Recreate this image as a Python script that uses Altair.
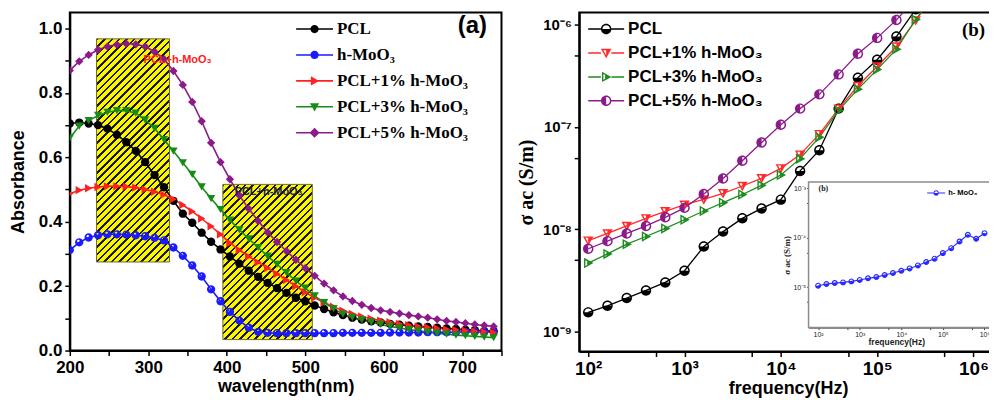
import math
import altair as alt
import pandas as pd

# ---------------- panel (a): UV-vis absorbance ----------------
WAVELENGTH = [200, 212, 224, 236, 248, 260, 272, 284, 296, 308, 320, 332, 344, 356, 368, 380,
              392, 404, 416, 428, 440, 452, 464, 476, 488, 500, 512, 524, 536, 548, 560, 572,
              584, 596, 608, 620, 632, 644, 656, 668, 680, 692, 704, 716, 728, 740]
ABS_PCL = [0.705, 0.708, 0.705, 0.700, 0.689, 0.670, 0.647, 0.620, 0.585, 0.545, 0.507, 0.465,
           0.425, 0.397, 0.366, 0.338, 0.314, 0.292, 0.270, 0.248, 0.229, 0.210, 0.194, 0.179,
           0.164, 0.153, 0.140, 0.129, 0.119, 0.110, 0.102, 0.096, 0.091, 0.087, 0.083, 0.080,
           0.077, 0.075, 0.073, 0.071, 0.069, 0.067, 0.065, 0.063, 0.061, 0.060]
ABS_HMOO3 = [0.312, 0.336, 0.351, 0.358, 0.361, 0.361, 0.360, 0.358, 0.355, 0.350, 0.342, 0.320,
             0.294, 0.264, 0.230, 0.190, 0.153, 0.120, 0.093, 0.071, 0.058, 0.055, 0.054, 0.054,
             0.054, 0.054, 0.054, 0.054, 0.054, 0.055, 0.055, 0.055, 0.055, 0.055, 0.056, 0.056,
             0.056, 0.056, 0.057, 0.057, 0.057, 0.057, 0.058, 0.058, 0.058, 0.058]
ABS_PCL1 = [0.487, 0.498, 0.504, 0.508, 0.510, 0.510, 0.509, 0.506, 0.500, 0.493, 0.484, 0.470,
            0.452, 0.432, 0.410, 0.386, 0.361, 0.334, 0.312, 0.292, 0.274, 0.256, 0.238, 0.219,
            0.200, 0.181, 0.164, 0.149, 0.136, 0.124, 0.114, 0.106, 0.099, 0.093, 0.088, 0.083,
            0.079, 0.075, 0.072, 0.069, 0.066, 0.064, 0.062, 0.060, 0.058, 0.056]
ABS_PCL3 = [0.660, 0.697, 0.714, 0.730, 0.740, 0.745, 0.745, 0.737, 0.716, 0.690, 0.655, 0.619,
            0.583, 0.547, 0.508, 0.472, 0.438, 0.405, 0.375, 0.347, 0.320, 0.293, 0.268, 0.242,
            0.216, 0.194, 0.170, 0.149, 0.130, 0.113, 0.103, 0.095, 0.088, 0.081, 0.075, 0.070,
            0.065, 0.061, 0.057, 0.054, 0.051, 0.048, 0.046, 0.044, 0.042, 0.040]
ABS_PCL5 = [0.870, 0.898, 0.918, 0.934, 0.944, 0.950, 0.953, 0.951, 0.944, 0.928, 0.905, 0.868,
            0.825, 0.772, 0.712, 0.645, 0.585, 0.532, 0.482, 0.440, 0.402, 0.367, 0.337, 0.309,
            0.282, 0.256, 0.232, 0.208, 0.187, 0.168, 0.154, 0.142, 0.132, 0.125, 0.120, 0.115,
            0.110, 0.106, 0.102, 0.097, 0.092, 0.089, 0.085, 0.081, 0.078, 0.075]
SERIES_A = ["PCL", "h-MoO₃", "PCL+1% h-MoO₃", "PCL+3% h-MoO₃", "PCL+5% h-MoO₃"]
COLORS_A = ["#000000", "#1a1aff", "#ff2020", "#168c16", "#8b1a8b"]

RECT_X1 = [234, 395]
RECT_X2 = [327, 509]
RECT_Y1 = [0.275, 0.034]
RECT_Y2 = [0.968, 0.516]
RECT_TEXT = ["PCL+h-MoO₃", "PCL+h-MoO₃"]
RECT_TEXT_X = [294, 410]
RECT_TEXT_Y = [0.901, 0.492]
RECT_TEXT_COLOR = ["#ff2020", "#1c1c5a"]

XA_TICKS = [200, 250, 300, 350, 400, 450, 500, 550, 600, 650, 700, 750]
YA_TICKS = [0.0, 0.1, 0.2, 0.3, 0.4, 0.5, 0.6, 0.7, 0.8, 0.9, 1.0]

# ---------------- panel (b): ac conductivity ----------------
FREQ = [100, 158.5, 251.2, 398.1, 631.0, 1000, 1585, 2512, 3981, 6310, 10000, 15850,
        25120, 39810, 63100, 100000, 158500, 251200, 398100]
SIG_PCL = [1.545e-9, 1.79e-9, 2.13e-9, 2.53e-9, 3.03e-9, 3.94e-9, 6.79e-9, 9.5e-9, 1.28e-8,
           1.60e-8, 1.95e-8, 3.72e-8, 5.93e-8, 1.51e-7, 3.03e-7, 4.53e-7, 7.64e-7, 1.41e-6, 2.5e-6]
SIG_PCL1 = [7.76e-9, 9.12e-9, 1.08e-8, 1.28e-8, 1.50e-8, 1.74e-8, 1.96e-8, 2.25e-8, 2.65e-8,
            3.15e-8, 3.94e-8, 5.37e-8, 8.51e-8, 1.51e-7, 2.51e-7, 3.89e-7, 6.10e-7, 1.10e-6, 2.0e-6]
SIG_PCL3 = [4.68e-9, 5.75e-9, 7.16e-9, 8.51e-9, 1.02e-8, 1.24e-8, 1.51e-8, 1.82e-8, 2.19e-8,
            2.69e-8, 3.39e-8, 4.90e-8, 7.94e-8, 1.45e-7, 2.34e-7, 3.63e-7, 5.75e-7, 1.12e-6, 2.0e-6]
SIG_PCL5 = [6.46e-9, 7.67e-9, 9.12e-9, 1.08e-8, 1.31e-8, 1.62e-8, 2.21e-8, 3.14e-8, 4.68e-8,
            7.05e-8, 1.05e-7, 1.51e-7, 2.08e-7, 3.26e-7, 5.19e-7, 7.41e-7, 1.11e-6, 1.78e-6, 3.0e-6]
SERIES_B = ["PCL", "PCL+1% h-MoO₃", "PCL+3% h-MoO₃", "PCL+5% h-MoO₃"]
COLORS_B = ["#000000", "#ff2a2a", "#1e8c1e", "#8b1a8b"]
XB_TICKS = [1e2, 5e2, 1e3, 5e3, 1e4, 5e4, 1e5, 5e5, 1e6]
YB_TICKS = [1e-9, 5e-9, 1e-8, 5e-8, 1e-7, 5e-7, 1e-6]

# inset (h-MoO3)
INSET_FREQ = [100, 158.5, 251.2, 398.1, 631.0, 1000, 1585, 2512, 3981, 6310, 10000, 15850,
              25120, 39810, 63100, 100000, 158500, 251200, 398100, 631000, 1000000]
INSET_SIG = [1.07e-5, 1.16e-5, 1.21e-5, 1.25e-5, 1.31e-5, 1.40e-5, 1.51e-5, 1.60e-5, 1.76e-5,
             1.93e-5, 2.15e-5, 2.40e-5, 2.76e-5, 3.22e-5, 3.77e-5, 4.90e-5, 6.18e-5, 8.43e-5,
             1.15e-4, 9.55e-5, 1.24e-4]
INSET_SERIES = ["h- MoO₃"]
INSET_X_DOMAIN = [58.9, 1.995e6]
INSET_Y_DOMAIN = [1.514e-6, 1.349e-3]
XI_TICKS = [1e2, 5e2, 1e3, 5e3, 1e4, 5e4, 1e5, 5e5, 1e6]
YI_TICKS = [5e-6, 1e-5, 5e-5, 1e-4, 5e-4, 1e-3]

# ---------------- layout ----------------
WA, HA = 433, 339
WB, HB = 419, 340
XA_DOMAIN = [200, 750]
YA_DOMAIN = [0, 1.0495]
XB_DOMAIN = [80.7, 1.754e6]
YB_DOMAIN = [6.40e-10, 1.309e-6]
INSET_X_RANGE = [230, 419]
INSET_Y_RANGE = [316, 170]

SANS = "Liberation Sans"
SERIF = "Liberation Serif"


# ---------------- marker path helpers ----------------
def circle_path(r, cx=0.0, cy=0.0, cw=True):
    s = 1 if cw else 0
    return (f"M{cx + r:.3f},{cy:.3f}A{r:.3f},{r:.3f} 0 1,{s} {cx - r:.3f},{cy:.3f}"
            f"A{r:.3f},{r:.3f} 0 1,{s} {cx + r:.3f},{cy:.3f}Z")


def poly_path(pts, k=1.0, ccw=False):
    p = [(x * k, y * k) for x, y in pts]
    if ccw:
        p = p[::-1]
    return "M" + "L".join(f"{x:.3f},{y:.3f}" for x, y in p) + "Z"


def shrink(pts, f):
    cx = sum(p[0] for p in pts) / len(pts)
    cy = sum(p[1] for p in pts) / len(pts)
    return [(cx + (x - cx) * f, cy + (y - cy) * f) for x, y in pts]


def bottom_half(k):
    return f"M{k:.3f},0A{k:.3f},{k:.3f} 0 0,1 {-k:.3f},0Z"


def left_half(k):
    return f"M0,{k:.3f}A{k:.3f},{k:.3f} 0 0,1 0,{-k:.3f}Z"


TRI_DOWN = [(-1, -0.8), (1, -0.8), (0, 1)]
TRI_RIGHT = [(-0.8, -1), (1, 0), (-0.8, 1)]
DIAMOND = [(0, -1), (1, 0), (0, 1), (-1, 0)]


def marker_b(kind, k):
    if kind == "pcl":
        return circle_path(k) + circle_path(0.72 * k, cw=False) + bottom_half(k)
    if kind == "p1":
        return (poly_path(TRI_DOWN, k) + poly_path(shrink(TRI_DOWN, 0.55), k, ccw=True)
                + poly_path([(0, -0.8), (1, -0.8), (0, 1)], k))
    if kind == "p3":
        return (poly_path(TRI_RIGHT, k) + poly_path(shrink(TRI_RIGHT, 0.55), k, ccw=True)
                + poly_path([(-0.2, -0.667), (1, 0), (-0.2, 0.667)], k))
    return circle_path(k) + circle_path(0.72 * k, cw=False) + left_half(k)


def legend_line(half_len, r, t):
    return (poly_path([(-half_len, -t), (-r, -t), (-r, t), (-half_len, t)])
            + poly_path([(r, -t), (half_len, -t), (half_len, t), (r, t)]))


# legend symbols: 17px symbol box, the path reaches beyond it to draw the line
LEG_UNIT = 8.5
KINDS_B = ["pcl", "p1", "p3", "p5"]
SHAPES_B = [marker_b(k, 1.0) for k in KINDS_B]
_rb = 5.25 / LEG_UNIT
LEG_SHAPES_B = [legend_line(18.0 / LEG_UNIT, _rb, 0.75 / LEG_UNIT) + marker_b(k, _rb) for k in KINDS_B]

SHAPES_A = ["circle", circle_path(1.0) + circle_path(0.32, -0.2, -0.3, cw=False),
            "triangle-right", "triangle-down", "diamond"]
_hl = 18.5 / LEG_UNIT
_t = 0.8 / LEG_UNIT
_full_line = poly_path([(-_hl, -_t), (_hl, -_t), (_hl, _t), (-_hl, _t)])
_ka = 4.6 / LEG_UNIT
LEG_SHAPES_A = [_full_line + circle_path(0.9 * _ka), _full_line + circle_path(0.9 * _ka),
                _full_line + poly_path(TRI_RIGHT, _ka), _full_line + poly_path(TRI_DOWN, _ka),
                _full_line + poly_path(DIAMOND, 1.1 * _ka)]

INSET_SHAPE = [circle_path(1.0) + circle_path(0.62, cw=False) + bottom_half(1.0)]
INSET_LEG_SHAPE = [legend_line(1.0, 0.3, 0.05) + circle_path(0.3) + circle_path(0.19, cw=False)
                   + bottom_half(0.3)]


def hatch(w, h, period=5.2, thick=1.7, c_bg="#fbf500", c_line="#1a1a00"):
    a, b = 1.0 / h, 1.0 / w
    s = (a + b) / (a * a + b * b)
    n = max(1, int(round((w + h) / (math.sqrt(2) * period))))
    f = thick / period
    stops = []
    for i in range(n):
        o0, o1, o2 = i / n, (i + f) / n, (i + 1) / n
        stops += [(o0, c_line), (o1, c_line), (o1, c_bg), (o2, c_bg)]
    return alt.LinearGradient(
        gradient="linear", x1=0, y1=0, x2=round(a * s, 4), y2=round(b * s, 4),
        stops=[alt.GradientStop(offset=round(min(o, 1.0), 5), color=c) for o, c in stops])


# ---------------- data frames ----------------
def long_df(xs_list, ys_list, names, xname, yname):
    rows = []
    for name, xs, ys in zip(names, xs_list, ys_list):
        for x, y in zip(xs, ys):
            rows.append({xname: x, yname: y, "series": name})
    return pd.DataFrame(rows)


df_a = long_df([WAVELENGTH] * 5, [ABS_PCL, ABS_HMOO3, ABS_PCL1, ABS_PCL3, ABS_PCL5],
               SERIES_A, "wavelength", "absorbance")
df_b = long_df([FREQ] * 4, [SIG_PCL, SIG_PCL1, SIG_PCL3, SIG_PCL5], SERIES_B, "frequency", "sigma")
df_i = long_df([INSET_FREQ], [INSET_SIG], INSET_SERIES, "frequency", "sigma")
df_rect = pd.DataFrame({"x1": RECT_X1, "x2": RECT_X2, "y1": RECT_Y1, "y2": RECT_Y2, "id": [0, 1]})
df_rtext = pd.DataFrame({"x": RECT_TEXT_X, "y": RECT_TEXT_Y, "text": RECT_TEXT, "id": [0, 1]})
df_alabel = pd.DataFrame({"x": [713], "y": [1.009], "text": ["(a)"]})
df_blabel = pd.DataFrame({"x": [1.0e6], "y": [8.9e-7], "text": ["(b)"]})
df_ilabel = pd.DataFrame({"x": [134], "y": [9.8e-4], "text": ["(b)"]})
df_iframe = pd.DataFrame({"x1": [INSET_X_DOMAIN[0]], "x2": [INSET_X_DOMAIN[1]],
                          "y1": [INSET_Y_DOMAIN[0]], "y2": [INSET_Y_DOMAIN[1]]})

# ---------------- axes ----------------
def main_axis(**kw):
    base = dict(grid=False, tickColor="black", tickWidth=1.5, domainColor="black", domainWidth=2,
                labelFont=SANS, labelFontWeight="bold", labelColor="black", labelOverlap=False,
                labelFlush=False, labelBound=False, titleFont=SANS, titleFontWeight="bold",
                titleColor="black")
    base.update(kw)
    return alt.Axis(**base)


AX_XA = main_axis(values=XA_TICKS, labelExpr="datum.value % 100 === 0 ? datum.label : ''",
                  tickSize=5, labelPadding=4, labelFontSize=17, titleFontSize=18, titlePadding=2)
AX_YA = main_axis(values=YA_TICKS,
                  labelExpr="round(datum.value * 10) % 2 === 0 ? format(datum.value, '.1f') : ''",
                  tickSize=5, labelPadding=3, labelFontSize=17, titleFontSize=18, titlePadding=6,
                  minExtent=36, maxExtent=36)
AX_XB = main_axis(values=XB_TICKS,
                  labelExpr="['10²','10³','10⁴','10⁵','10⁶'][indexof([100,1000,10000,100000,1000000], datum.value)] || ''",
                  tickSize=5, labelPadding=3, labelFontSize=19, titleFontSize=18, titlePadding=1)
AX_YB = main_axis(values=YB_TICKS,
                  labelExpr="['10⁻⁹','10⁻⁸','10⁻⁷','10⁻⁶'][indexof([1e-9,1e-8,1e-7,1e-6], datum.value)] || ''",
                  tickSize=5, labelPadding=3, labelFontSize=15, titleFont=SERIF, titleFontSize=20,
                  titlePadding=5, minExtent=38, maxExtent=38)
AX_XI = alt.Axis(orient="bottom", offset=INSET_Y_RANGE[0] - HB, values=XI_TICKS,
                 labelExpr="['10²','10³','10⁴','10⁵','10⁶'][indexof([100,1000,10000,100000,1000000], datum.value)] || ''",
                 grid=False, tickSize=2, tickColor="#444", domainColor="#444", domainWidth=1,
                 labelFont=SANS, labelFontSize=7, labelColor="#222", labelPadding=1,
                 labelOverlap=False, labelFlush=False, titleFont=SANS, titleFontSize=8.5,
                 titleFontWeight="bold", titleColor="#222", titlePadding=0, titleX=318)
AX_YI = alt.Axis(orient="left", offset=-INSET_X_RANGE[0], values=YI_TICKS,
                 labelExpr="['10⁻⁵','10⁻⁴','10⁻³'][indexof([1e-5,1e-4,1e-3], datum.value)] || ''",
                 grid=False, tickSize=2, tickColor="#444", domainColor="#444", domainWidth=1,
                 labelFont=SANS, labelFontSize=7, labelColor="#222", labelPadding=1,
                 labelOverlap=False, labelFlush=False, titleFont=SERIF, titleFontSize=9,
                 titleFontWeight="bold", titleColor="#222", titlePadding=1)

SC_XA = alt.Scale(domain=XA_DOMAIN, nice=False, zero=False)
SC_YA = alt.Scale(domain=YA_DOMAIN, nice=False, zero=False)
SC_XB = alt.Scale(type="log", domain=XB_DOMAIN, nice=False)
SC_YB = alt.Scale(type="log", domain=YB_DOMAIN, nice=False)
SC_XI = alt.Scale(type="log", domain=INSET_X_DOMAIN, range=INSET_X_RANGE, nice=False)
SC_YI = alt.Scale(type="log", domain=INSET_Y_DOMAIN, range=INSET_Y_RANGE, nice=False)


def XA(f):
    return alt.X(f"{f}:Q", scale=SC_XA, axis=AX_XA, title="wavelength(nm)")


def YA(f):
    return alt.Y(f"{f}:Q", scale=SC_YA, axis=AX_YA, title="Absorbance")


def XB(f):
    return alt.X(f"{f}:Q", scale=SC_XB, axis=AX_XB, title="frequency(Hz)")


def YB(f):
    return alt.Y(f"{f}:Q", scale=SC_YB, axis=AX_YB, title="σ ac (S/m)")


def XI(f):
    return alt.X(f"{f}:Q", scale=SC_XI, axis=AX_XI, title="frequency(Hz)")


def YI(f):
    return alt.Y(f"{f}:Q", scale=SC_YI, axis=AX_YI, title="σ ac (S/m)")


def make_legend(x, y, size, font, fsize, rowpad, label_offset):
    return alt.Legend(orient="none", legendX=x, legendY=y, symbolSize=size, symbolStrokeWidth=0,
                      symbolOpacity=1, labelFont=font, labelFontSize=fsize, labelFontWeight="bold",
                      labelColor="black", rowPadding=rowpad, labelOffset=label_offset, padding=0,
                      labelLimit=400, direction="vertical")


# ---------------- panel (a) ----------------
color_a = alt.Color("series:N", scale=alt.Scale(domain=SERIES_A, range=COLORS_A), legend=None)
rect_layers = []
for i in range(2):
    w = (RECT_X2[i] - RECT_X1[i]) * WA / (XA_DOMAIN[1] - XA_DOMAIN[0])
    h = (RECT_Y2[i] - RECT_Y1[i]) * HA / (YA_DOMAIN[1] - YA_DOMAIN[0])
    rect_layers.append(
        alt.Chart(df_rect).transform_filter(f"datum.id == {i}")
        .mark_rect(fill=hatch(w, h), stroke="#6b6b40", strokeWidth=1)
        .encode(x=XA("x1"), x2="x2:Q", y=YA("y1"), y2="y2:Q"))
text_layers = [
    alt.Chart(df_rtext).transform_filter(f"datum.id == {i}")
    .mark_text(align="left", baseline="middle", font=SANS, fontSize=11, fontWeight="bold",
               color=RECT_TEXT_COLOR[i])
    .encode(x=XA("x"), y=YA("y"), text="text:N")
    for i in range(2)]
lines_a = alt.Chart(df_a).mark_line(strokeWidth=1.6, clip=True).encode(
    x=XA("wavelength"), y=YA("absorbance"), color=color_a)
points_a = alt.Chart(df_a).mark_point(filled=True, opacity=1, size=70, clip=True).encode(
    x=XA("wavelength"), y=YA("absorbance"), color=color_a,
    shape=alt.Shape("series:N", scale=alt.Scale(domain=SERIES_A, range=SHAPES_A), legend=None))
alabel = alt.Chart(df_alabel).mark_text(font=SANS, fontSize=24, fontWeight="bold", color="black",
                                        baseline="middle").encode(x=XA("x"), y=YA("y"), text="text:N")
leg_a_def = make_legend(237, 8, LEG_UNIT ** 2 * 4, SERIF, 17, 8, 14)
legend_a = alt.Chart(df_a).transform_filter("false").mark_point(filled=True, opacity=1).encode(
    color=alt.Color("series:N", scale=alt.Scale(domain=SERIES_A, range=COLORS_A), legend=leg_a_def, title=None),
    shape=alt.Shape("series:N", scale=alt.Scale(domain=SERIES_A, range=LEG_SHAPES_A), legend=leg_a_def, title=None))

core_a = alt.layer(*rect_layers, lines_a, points_a, *text_layers, alabel)
panel_a = alt.layer(core_a, legend_a).resolve_scale(color="independent", shape="independent") \
    .properties(width=WA, height=HA)

# ---------------- panel (b) ----------------
color_b = alt.Color("series:N", scale=alt.Scale(domain=SERIES_B, range=COLORS_B), legend=None)
lines_b = alt.Chart(df_b).mark_line(strokeWidth=1.3, clip=True).encode(
    x=XB("frequency"), y=YB("sigma"), color=color_b)
points_b = alt.Chart(df_b).mark_point(filled=True, opacity=1, size=110, clip=True).encode(
    x=XB("frequency"), y=YB("sigma"), color=color_b,
    shape=alt.Shape("series:N", scale=alt.Scale(domain=SERIES_B, range=SHAPES_B), legend=None))
blabel = alt.Chart(df_blabel).mark_text(font=SERIF, fontSize=19, fontWeight="bold", color="black",
                                        baseline="middle").encode(x=XB("x"), y=YB("y"), text="text:N")
leg_b_def = make_legend(18.5, 8, LEG_UNIT ** 2 * 4, SANS, 17, 6, 13.5)
legend_b = alt.Chart(df_b).transform_filter("false").mark_point(filled=True, opacity=1).encode(
    color=alt.Color("series:N", scale=alt.Scale(domain=SERIES_B, range=COLORS_B), legend=leg_b_def, title=None),
    shape=alt.Shape("series:N", scale=alt.Scale(domain=SERIES_B, range=LEG_SHAPES_B), legend=leg_b_def, title=None))
main_b = alt.layer(alt.layer(lines_b, points_b, blabel), legend_b) \
    .resolve_scale(color="independent", shape="independent")

color_i = alt.Color("series:N", scale=alt.Scale(domain=INSET_SERIES, range=["#2a2aff"]), legend=None)
iframe = alt.Chart(df_iframe).mark_rect(fill="white", stroke="#8c8c8c", strokeWidth=1.5).encode(
    x=XI("x1"), x2="x2:Q", y=YI("y1"), y2="y2:Q")
iline = alt.Chart(df_i).mark_line(strokeWidth=1.1).encode(x=XI("frequency"), y=YI("sigma"), color=color_i)
ipoints = alt.Chart(df_i).mark_point(filled=True, opacity=1, size=36).encode(
    x=XI("frequency"), y=YI("sigma"), color=color_i,
    shape=alt.Shape("series:N", scale=alt.Scale(domain=INSET_SERIES, range=INSET_SHAPE), legend=None))
ilabel = alt.Chart(df_ilabel).mark_text(font=SERIF, fontSize=8, fontWeight="bold", color="#222",
                                        baseline="middle").encode(x=XI("x"), y=YI("y"), text="text:N")
leg_i_def = make_legend(349, 172, 324, SANS, 7.5, 0, 3)
legend_i = alt.Chart(df_i).transform_filter("false").mark_point(filled=True, opacity=1).encode(
    color=alt.Color("series:N", scale=alt.Scale(domain=INSET_SERIES, range=["#2a2aff"]), legend=leg_i_def, title=None),
    shape=alt.Shape("series:N", scale=alt.Scale(domain=INSET_SERIES, range=INSET_LEG_SHAPE), legend=leg_i_def, title=None))
inset = alt.layer(alt.layer(iframe, iline, ipoints, ilabel), legend_i) \
    .resolve_scale(color="independent", shape="independent")

panel_b = alt.layer(main_b, inset).resolve_scale(
    x="independent", y="independent", color="independent", shape="independent"
).resolve_axis(x="independent", y="independent").properties(width=WB, height=HB)

# the right panel runs past the image edge, as in the original figure
chart = alt.hconcat(panel_a, panel_b, spacing=12).resolve_scale(
    color="independent", shape="independent"
).properties(
    padding={"left": 1, "top": 3, "right": -10, "bottom": 0}
).configure(font=SANS).configure_view(stroke="black", strokeWidth=2)

chart.save("out.html", embed_options={"renderer": "svg", "actions": False})
